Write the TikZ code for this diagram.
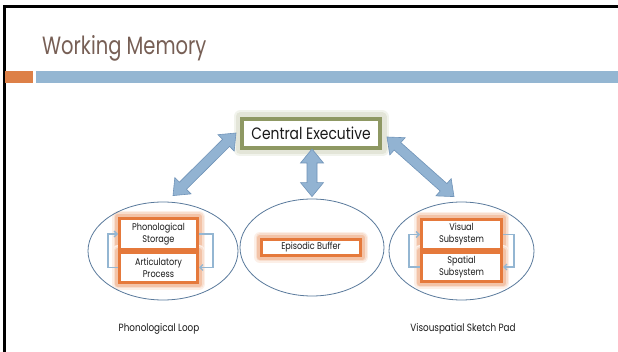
\documentclass[tikz,border=0pt]{standalone}
\usepackage{fontspec}
\setmainfont{Poppins}[FakeStretch=0.84]
\newfontfamily\titlefamily{Poppins}[FakeStretch=0.78]
\usetikzlibrary{calc,shapes.geometric,arrows.meta,backgrounds}

\definecolor{titlebrown}{HTML}{775F55}
\definecolor{barorange}{HTML}{DD8047}
\definecolor{barblue}{HTML}{94B6D2}
\definecolor{ceolive}{HTML}{8E9863}
\definecolor{boxorange}{HTML}{E5793B}
\definecolor{arrowfill}{HTML}{92B3D2}
\definecolor{arrowedge}{HTML}{6F93B8}
\definecolor{ovaledge}{HTML}{5A7A9C}
\definecolor{textdark}{HTML}{1A1A1A}

% double-headed block arrow between two named points
\newcommand\blockdblarrow[2]{%
  \draw[bigarrow]
    (#1)
    -- ($(#1)!14pt!(#2)!11.5pt!90:(#2)$)
    -- ($(#1)!14pt!(#2)!5pt!90:(#2)$)
    -- ($(#2)!14pt!(#1)!5pt!-90:(#1)$)
    -- ($(#2)!14pt!(#1)!11.5pt!-90:(#1)$)
    -- (#2)
    -- ($(#2)!14pt!(#1)!11.5pt!90:(#1)$)
    -- ($(#2)!14pt!(#1)!5pt!90:(#1)$)
    -- ($(#1)!14pt!(#2)!5pt!-90:(#2)$)
    -- ($(#1)!14pt!(#2)!11.5pt!-90:(#2)$)
    -- cycle;}

\begin{document}
\begin{tikzpicture}[x=1pt,y=-1pt,
  bigarrow/.style={fill=arrowfill, draw=arrowedge, line width=0.6pt, line join=miter},
  oval/.style={ellipse, draw=ovaledge, line width=0.8pt, inner sep=0pt},
  cebox/.style={draw=ceolive, line width=4pt, fill=white, inner sep=0pt,
    font=\fontsize{16.5}{18}\selectfont, text=textdark},
  obox/.style={draw=boxorange, line width=3pt, fill=white, inner sep=0pt,
    align=center, font=\fontsize{9.7}{12}\selectfont, text=textdark},
  glow/.style={draw=#1, line cap=round, line join=round},
  looparrow/.style={draw=barblue, line width=1.4pt, -{Straight Barb[length=3pt,width=6pt]}},
  caption/.style={font=\fontsize{10.5}{12}\selectfont, text=textdark}]

\useasboundingbox (0,0) rectangle (618,352);

% slide frame and header
\draw[line width=2.5pt] (4.7,352) -- (4.7,6.3) -- (618,6.3);
\fill[barorange] (5,71) rectangle (33,83);
\fill[barblue] (36,71) rectangle (618,83);
\node[anchor=base west, inner sep=0pt, text=titlebrown,
  font=\titlefamily\fontsize{25}{28}\selectfont] (title) at (42,55) {Working Memory};

% top component
\node[cebox, minimum width=138, minimum height=29] (ce) at (311,133.5) {Central Executive};

% three subsystems
\node[oval, minimum width=150, minimum height=98] (loop) at (163,251) {};
\node[oval, minimum width=144, minimum height=97] (buffer) at (312,247.5) {};
\node[oval, minimum width=145, minimum height=98] (sketch) at (461.5,251) {};

\node[obox, minimum width=78, minimum height=31] (ps) at (158.5,234) {Phonological\\Storage};
\node[obox, minimum width=78, minimum height=30] (ap) at (158.5,267.5) {Articulatory\\Process};
\node[obox, minimum width=99, minimum height=16] (eb) at (311,247.5) {Episodic Buffer};
\node[obox, minimum width=80, minimum height=30] (vs) at (461.5,234.5) {Visual\\Subsystem};
\node[obox, minimum width=80, minimum height=29] (ss) at (461.5,267) {Spatial\\Subsystem};

% white page and soft glow behind the boxes
\begin{scope}[on background layer]
  \fill[white] (0,0) rectangle (618,352);
  \foreach \b in {ps,ap,eb,vs,ss}{
    \draw[glow=boxorange!12, line width=12pt] (\b.south west) rectangle (\b.north east);
    \draw[glow=boxorange!25, line width=9pt] (\b.south west) rectangle (\b.north east);
    \draw[glow=boxorange!45, line width=6.5pt] (\b.south west) rectangle (\b.north east);
  }
  \draw[glow=ceolive!12, line width=13pt] (ce.south west) rectangle (ce.north east);
  \draw[glow=ceolive!25, line width=9pt] (ce.south west) rectangle (ce.north east);
\end{scope}

% rehearsal loops
\draw[looparrow] (ap.west) -- ++(-10,0) |- (ps.west);
\draw[looparrow] (ps.east) -- ++(14,0) |- (ap.east);
\draw[looparrow] (ss.west) -- ++(-11,0) |- (vs.west);
\draw[looparrow] (vs.east) -- ++(11,0) |- (ss.east);

% links to the central executive
\coordinate (ceL) at ($(ce.west)+(-4,-0.5)$);
\coordinate (loopT) at ($(loop.north)+(10,-6)$);
\coordinate (ceB) at ($(ce.south)+(1,-1)$);
\coordinate (bufT) at ($(buffer.north)+(0,-2)$);
\coordinate (ceR) at ($(ce.east)+(5,3.5)$);
\coordinate (sketchT) at ($(sketch.north)+(-7.5,-5)$);
\blockdblarrow{ceL}{loopT}
\blockdblarrow{ceB}{bufT}
\blockdblarrow{ceR}{sketchT}

% captions
\node[caption] (cap1) at (159,329) {Phonological Loop};
\node[caption] (cap2) at (463,329) {Visouspatial Sketch Pad};
\end{tikzpicture}
\end{document}
